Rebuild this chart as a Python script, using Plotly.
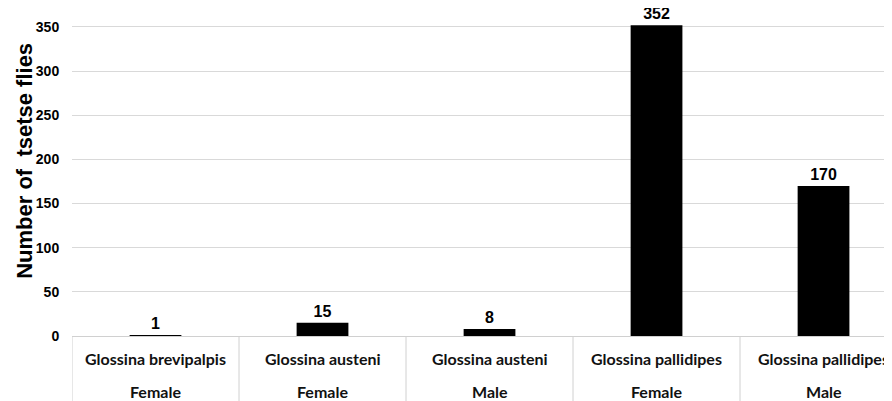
import plotly.graph_objects as go

species = ["Glossina brevipalpis", "Glossina austeni", "Glossina austeni",
           "Glossina pallidipes", "Glossina pallidipes"]
sexes = ["Female", "Female", "Male", "Female", "Male"]
counts = [1, 15, 8, 352, 170]
y_ticks = [0, 50, 100, 150, 200, 250, 300, 350]

xs = list(range(len(counts)))
label_font = dict(family="Lato, 'Open Sans', sans-serif", size=16, color="#111111")
arial_bold = "Liberation Sans, Arial, sans-serif"

fig = go.Figure()
fig.add_trace(go.Bar(
    x=xs, y=counts, marker=dict(color="black", line=dict(width=0)),
    width=0.31, text=[str(c) for c in counts], textposition="outside",
    textfont=dict(family=arial_bold, size=16, color="black"),
    texttemplate="<b>%{text}</b>", cliponaxis=False,
))

annotations = []
for i, (s, g) in enumerate(zip(species, sexes)):
    annotations.append(dict(x=i, y=-0.0671, xref="x", yref="paper", text=f"<b>{s}</b>",
                            showarrow=False, xanchor="center", yanchor="middle", font=label_font))
    annotations.append(dict(x=i, y=-0.1707, xref="x", yref="paper", text=f"<b>{g}</b>",
                            showarrow=False, xanchor="center", yanchor="middle", font=label_font))
annotations.append(dict(x=0, y=0.534, xref="paper", yref="paper", xshift=-47,
                        text="<b>Number of\u00a0 tsetse flies</b>", textangle=-90, showarrow=False,
                        xanchor="center", yanchor="middle",
                        font=dict(family=arial_bold, size=22, color="black")))

shapes = []
for b in [-0.5, 0.5, 1.5, 2.5, 3.5]:
    shapes.append(dict(type="line", xref="x", yref="paper", x0=b, x1=b, y0=0, y1=-0.2,
                       line=dict(color="#d0d0d0", width=1)))

fig.update_layout(
    width=884, height=393,
    margin=dict(l=64, r=0, t=0, b=65),
    paper_bgcolor="white", plot_bgcolor="white",
    showlegend=False,
    annotations=annotations, shapes=shapes,
    xaxis=dict(range=[-0.5, 4.41], showticklabels=False, showgrid=False, zeroline=False,
               showline=False, fixedrange=True),
    yaxis=dict(range=[0, 371.5], tickvals=y_ticks, ticktext=[f"<b>{v}</b>" for v in y_ticks],
               tickfont=dict(family=arial_bold, size=14, color="black"),
               showgrid=True, gridcolor="#d9d9d9", gridwidth=1,
               zeroline=True, zerolinecolor="#d0d0d0", zerolinewidth=1,
               showline=False, ticks="outside", ticklen=9, tickcolor="rgba(0,0,0,0)"),
)

fig.write_html("out.html")
